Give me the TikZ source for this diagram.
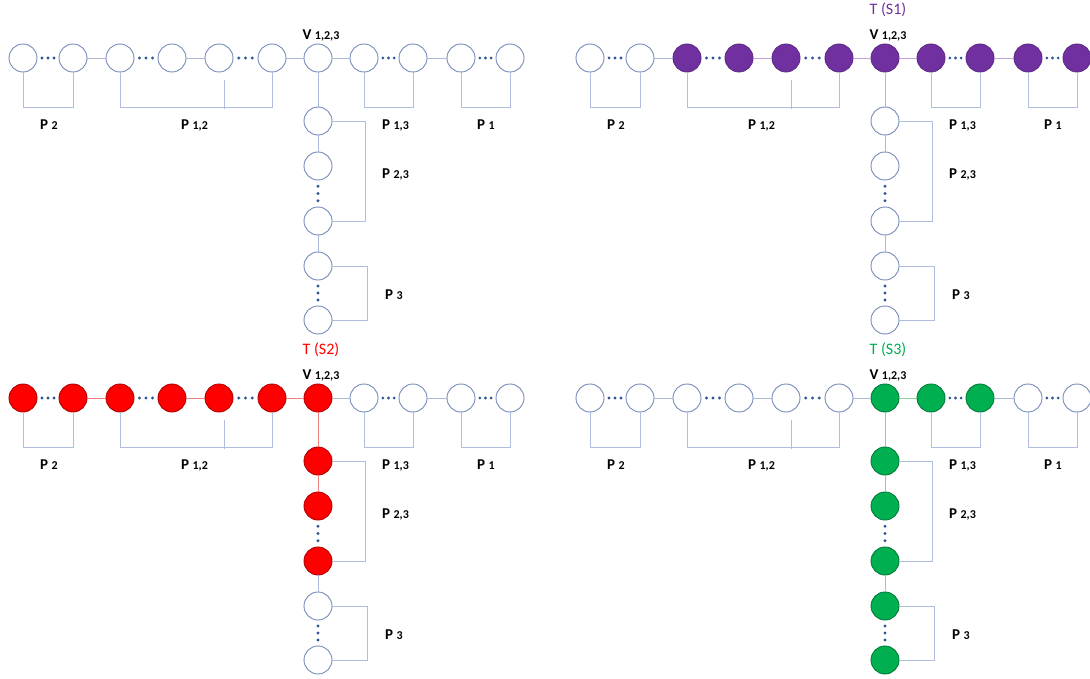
\documentclass[tikz,border=0pt]{standalone}
\usepackage{fontspec}
\setmainfont{Carlito}
\usetikzlibrary{calc}
\definecolor{ncirc}{RGB}{118,138,185}
\definecolor{lnc}{RGB}{170,185,215}
\definecolor{brkc}{RGB}{175,190,222}
\definecolor{dotc}{RGB}{47,85,151}
\definecolor{pur}{RGB}{112,48,160}
\definecolor{lpur}{RGB}{195,160,215}
\definecolor{redf}{RGB}{255,0,0}
\definecolor{lred}{RGB}{240,130,130}
\definecolor{grn}{RGB}{0,176,80}
\definecolor{lgrn}{RGB}{140,210,160}
\newcommand\idx[1]{{\fontsize{12pt}{12pt}\selectfont #1}}
\tikzset{
  wn/.style={circle, draw=ncirc, fill=white, line width=0.9pt, minimum size=28pt, inner sep=0pt},
  pn/.style={wn, fill=pur, draw=pur!85!black},
  rn/.style={wn, fill=redf, draw=redf!70!black},
  gn/.style={wn, fill=grn, draw=grn!70!black},
  ln/.style={draw=lnc, line width=0.9pt},
  lp/.style={draw=lpur, line width=0.9pt},
  lr/.style={draw=lred, line width=0.9pt},
  lg/.style={draw=lgrn, line width=0.9pt},
  brk/.style={draw=brkc, line width=0.8pt},
  plab/.style={anchor=west, inner sep=0pt, font=\fontsize{15pt}{15pt}\selectfont\bfseries},
  vlab/.style={inner sep=0pt, font=\fontsize{15pt}{15pt}\selectfont\bfseries},
  tlab/.style={inner sep=0pt, font=\fontsize{16pt}{16pt}\selectfont},
  st-c1/.style=wn, st-c2/.style=wn, st-c3/.style=wn, st-c4/.style=wn,
  st-c5/.style=wn, st-c6/.style=wn, st-V/.style=wn, st-c8/.style=wn,
  st-c9/.style=wn, st-c10/.style=wn, st-c11/.style=wn,
  st-d1/.style=wn, st-d2/.style=wn, st-d3/.style=wn, st-d4/.style=wn, st-d5/.style=wn,
  st-l23/.style=ln, st-l45/.style=ln, st-l6V/.style=ln, st-lV8/.style=ln,
  st-l910/.style=ln, st-lVd1/.style=ln, st-ld12/.style=ln, st-ld34/.style=ln,
}
\newcommand\tpanel[1]{%
  \coordinate (#1by) at (0,107);
  \coordinate (#1bx) at (365,0);
  \coordinate (#1bxb) at (367,0);
  \node[st-c1] (#1c1) at (23,58) {};
  \node[st-c2] (#1c2) at (73,58) {};
  \node[st-c3] (#1c3) at (120,58) {};
  \node[st-c4] (#1c4) at (172,58) {};
  \node[st-c5] (#1c5) at (219,58) {};
  \node[st-c6] (#1c6) at (272,58) {};
  \node[st-V] (#1V) at (318,58) {};
  \node[st-c8] (#1c8) at (364,58) {};
  \node[st-c9] (#1c9) at (413,58) {};
  \node[st-c10] (#1c10) at (461,58) {};
  \node[st-c11] (#1c11) at (510,58) {};
  \node[st-d1] (#1d1) at (318,121) {};
  \node[st-d2] (#1d2) at (318,166) {};
  \node[st-d3] (#1d3) at (318,221) {};
  \node[st-d4] (#1d4) at (318,266) {};
  \node[st-d5] (#1d5) at (318,320) {};
  \draw[st-l23] (#1c2) -- (#1c3);
  \draw[st-l45] (#1c4) -- (#1c5);
  \draw[st-l6V] (#1c6) -- (#1V);
  \draw[st-lV8] (#1V) -- (#1c8);
  \draw[st-l910] (#1c9) -- (#1c10);
  \draw[st-lVd1] (#1V) -- (#1d1);
  \draw[st-ld12] (#1d1) -- (#1d2);
  \draw[st-ld34] (#1d3) -- (#1d4);
  \foreach \a/\b in {c1/c2,c3/c4,c5/c6,c8/c9,c10/c11}{
    \foreach \t in {0.22,0.5,0.78}
      \fill[dotc] ($(#1\a.east)!\t!(#1\b.west)$) circle (1.6);}
  \foreach \a/\b in {d2/d3,d4/d5}{
    \foreach \t in {0.22,0.5,0.78}
      \fill[dotc] ($(#1\a.south)!\t!(#1\b.north)$) circle (1.6);}
  \draw[brk] (#1c1.south) -- (#1c1 |- #1by) -- (#1c2 |- #1by) -- (#1c2.south);
  \draw[brk] (#1c3.south) -- (#1c3 |- #1by) -- (#1c6 |- #1by) -- (#1c6.south);
  \draw[brk] ($(#1c5)+(5,22)$) -- ($(#1c5 |- #1by)+(5,2)$);
  \draw[brk] (#1c8.south) -- (#1c8 |- #1by) -- (#1c9 |- #1by) -- (#1c9.south);
  \draw[brk] (#1c10.south) -- (#1c10 |- #1by) -- (#1c11 |- #1by) -- (#1c11.south);
  \draw[brk] (#1d1.east) -- (#1d1 -| #1bx) -- (#1d3 -| #1bx) -- (#1d3.east);
  \draw[brk] (#1d4.east) -- (#1d4 -| #1bxb) -- (#1d5 -| #1bxb) -- (#1d5.east);
  \node[plab] (#1lP2) at (40,125) {P \idx{2}};
  \node[plab] (#1lP12) at (181,125) {P \idx{1,2}};
  \node[plab] (#1lP13) at (382,125) {P \idx{1,3}};
  \node[plab] (#1lP1) at (477,125) {P \idx{1}};
  \node[plab] (#1lP23) at (382,174) {P \idx{2,3}};
  \node[plab] (#1lP3) at (385,295) {P \idx{3}};
  \node[vlab] (#1lV) at (321,35) {V \idx{1,2,3}};
}
\begin{document}
\begin{tikzpicture}[x=1pt,y=-1pt]
\useasboundingbox[fill=white] (0,0) rectangle (1090,679);
% panel A: plain
\begin{scope}
  \tpanel{A}
\end{scope}
% panel B: T(S1)
\begin{scope}[shift={(567,0)}]
  \tikzset{st-c3/.style=pn, st-c4/.style=pn, st-c5/.style=pn, st-c6/.style=pn,
    st-V/.style=pn, st-c8/.style=pn, st-c9/.style=pn, st-c10/.style=pn, st-c11/.style=pn,
    st-l45/.style=lp, st-l6V/.style=lp, st-lV8/.style=lp, st-l910/.style=lp}
  \tpanel{B}
  \node[tlab, text=pur] (BT) at (321,10) {T (S1)};
\end{scope}
% panel C: T(S2)
\begin{scope}[shift={(0,340)}]
  \tikzset{st-c1/.style=rn, st-c2/.style=rn, st-c3/.style=rn, st-c4/.style=rn,
    st-c5/.style=rn, st-c6/.style=rn, st-V/.style=rn,
    st-d1/.style=rn, st-d2/.style=rn, st-d3/.style=rn,
    st-l23/.style=lr, st-l45/.style=lr, st-l6V/.style=lr, st-lVd1/.style=lr, st-ld12/.style=lr}
  \tpanel{C}
  \node[tlab, text=redf] (CT) at (321,10) {T (S2)};
\end{scope}
% panel D: T(S3)
\begin{scope}[shift={(567,340)}]
  \tikzset{st-V/.style=gn, st-c8/.style=gn, st-c9/.style=gn,
    st-d1/.style=gn, st-d2/.style=gn, st-d3/.style=gn, st-d4/.style=gn, st-d5/.style=gn,
    st-lV8/.style=lg, st-lVd1/.style=lg, st-ld12/.style=lg, st-ld34/.style=lg}
  \tpanel{D}
  \node[tlab, text=grn] (DT) at (321,10) {T (S3)};
\end{scope}
\end{tikzpicture}
\end{document}
